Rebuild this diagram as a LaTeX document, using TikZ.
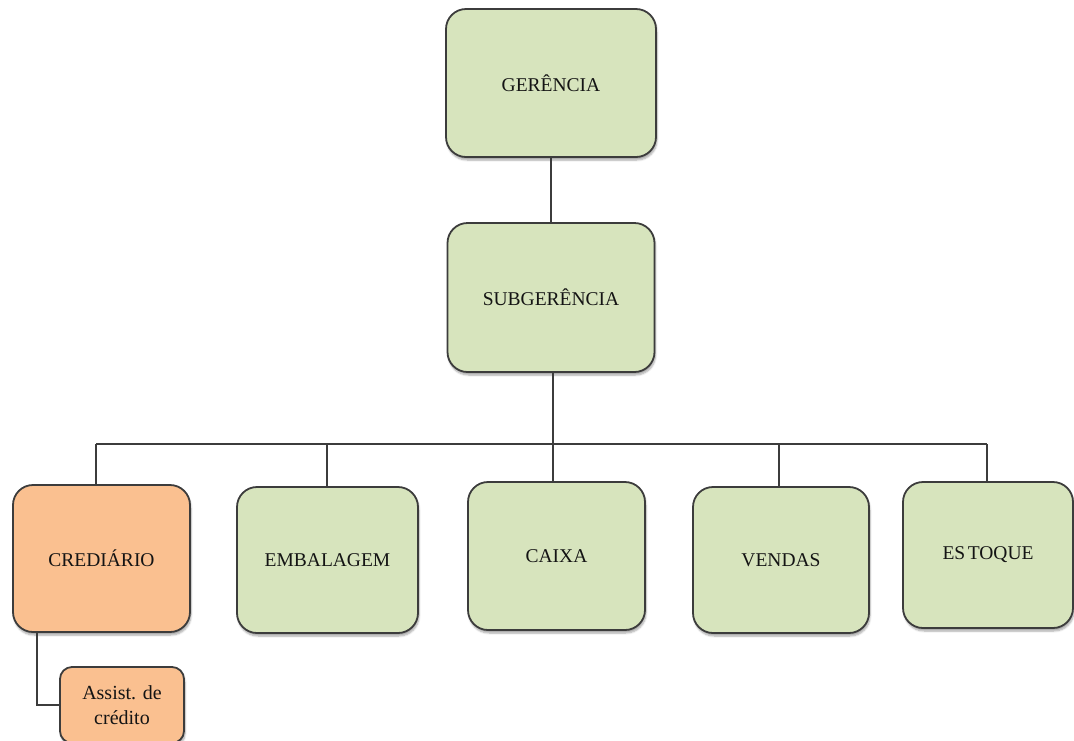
\documentclass[tikz,border=0pt]{standalone}
\usepackage{fontspec}
\setmainfont{Liberation Serif}
\usetikzlibrary{calc,shadows.blur}
\definecolor{boxgreen}{HTML}{D7E4BD}
\definecolor{boxorange}{HTML}{FAC090}
\definecolor{edgegray}{HTML}{3C3C3C}
\definecolor{textgray}{HTML}{141414}
\tikzset{
  unit/.style={draw=edgegray, line width=1.8pt, rounded corners=20pt,
    align=center, text=textgray, font=\fontsize{19.5}{23}\selectfont,
    blur shadow={shadow xshift=1pt, shadow yshift=-3pt, shadow blur steps=6, shadow opacity=35}},
  greenbox/.style={unit, fill=boxgreen},
  orangebox/.style={unit, fill=boxorange},
  link/.style={draw=edgegray, line width=1.6pt}
}
\begin{document}
\begin{tikzpicture}[x=1pt, y=1pt]
  \useasboundingbox (0,0) rectangle (1074,-740);
  \clip (0,0) rectangle (1074,-740);

  % management levels
  \node[greenbox, minimum width=210pt, minimum height=148pt] (ger) at (551,-83) {GERÊNCIA};
  \node[greenbox, minimum width=207pt, minimum height=149pt] (sub) at (551,-297.5) {SUBGERÊNCIA};

  % sectors
  \node[orangebox, minimum width=177pt, minimum height=147pt] (cred) at (101.5,-558.5) {CREDIÁRIO};
  \node[greenbox, minimum width=181pt, minimum height=146pt] (emb) at (327.5,-560) {EMBALAGEM};
  \node[greenbox, minimum width=177pt, minimum height=148pt] (cai) at (556.5,-556) {CAIXA};
  \node[greenbox, minimum width=176pt, minimum height=146pt] (ven) at (781,-560) {VENDAS};
  \node[greenbox, minimum width=170pt, minimum height=146pt] (est) at (988,-555) {ES\hspace{2.5pt}TOQUE};

  % sub-unit of the credit sector
  \node[orangebox, rounded corners=12pt, minimum width=124pt, minimum height=76pt,
        font=\fontsize{20}{25}\selectfont] (assist) at (122,-705) {Assist. de\\crédito};

  % bus line and drop points
  \coordinate (d1) at (96,-444);
  \coordinate (d2) at (327,-444);
  \coordinate (d3) at (553,-444);
  \coordinate (d4) at (779,-444);
  \coordinate (d5) at (987,-444);
  \coordinate (c1) at (37,-632);

  \draw[link] (ger.south) -- (sub.north);
  \draw[link] (sub.south -| d3) -- (d3);
  \draw[link] (d1) -- (d5);
  \draw[link] (d1) -- (d1 |- cred.north);
  \draw[link] (d2) -- (d2 |- emb.north);
  \draw[link] (d3) -- (d3 |- cai.north);
  \draw[link] (d4) -- (d4 |- ven.north);
  \draw[link] (d5) -- (d5 |- est.north);
  \draw[link] (c1) |- (assist.west);
\end{tikzpicture}
\end{document}
